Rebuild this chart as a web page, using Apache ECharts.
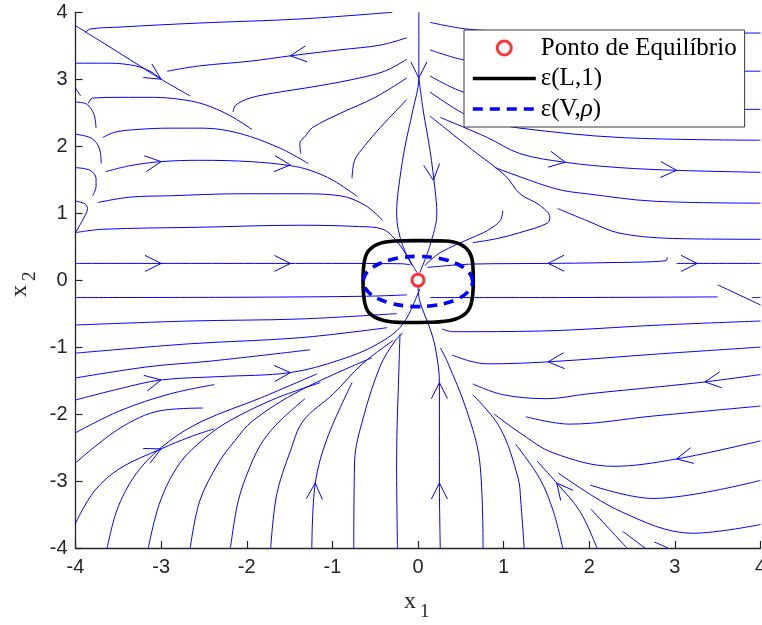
<!DOCTYPE html>
<html>
<head>
<meta charset="utf-8">
<script src="https://cdn.jsdelivr.net/npm/echarts@6.0.0/dist/echarts.min.js"></script>
<style>
  html, body { margin: 0; padding: 0; background: #fff; }
  #chart { width: 762px; height: 625px; }
</style>
</head>
<body>
<div id="chart"></div>
<script>
// Phase portrait: streamlines of the closed-loop system around the equilibrium,
// with the level sets ε(L,1) and ε(V,ρ).

// Streamlines, each a list of [x1, x2] points
const upperLeftLines = [
  [[-4,3.80],[-3.71,3.57],[-3.36,3.29],[-3.00,3.00],[-2.66,2.75]],
  [[-3.88,3.70],[-3.83,3.75],[-3.48,3.78],[-2.55,3.84],[-1.38,3.90],[-0.30,4.0]],
  [[-4,3.24],[-3.60,3.24],[-3.30,3.20],[-3.13,3.12],[-3.00,3.00]],
  [[-2.93,3.12],[-2.55,3.20],[-1.96,3.27],[-1.49,3.35],[-0.91,3.44],[-0.44,3.51],[-0.13,3.62]],
  [[-4,2.87],[-3.94,2.75]],
  [[-3.85,2.64],[-3.80,2.72],[-3.48,2.73],[-3.09,2.73],[-2.78,2.70],[-2.51,2.63],[-2.20,2.46],[-1.94,2.25]],
  [[-4,2.66],[-3.89,2.64],[-3.83,2.58],[-3.78,2.46],[-3.76,2.27]],
  [[-2.16,2.51],[-2.13,2.61],[-1.96,2.72],[-1.61,2.81],[-1.26,2.88],[-0.79,2.99],[-0.39,3.12],[-0.13,3.30]],
  [[-3.68,2.13],[-3.54,2.21],[-3.28,2.25],[-2.90,2.27],[-2.51,2.27],[-2.08,2.19],[-1.61,1.97],[-1.28,1.74]],
  [[-4,2.18],[-3.83,2.13],[-3.75,2.04],[-3.71,1.91],[-3.70,1.74]],
  [[-3.65,1.62],[-3.36,1.71],[-3.00,1.77],[-2.55,1.79],[-1.96,1.77],[-1.49,1.71],[-1.26,1.64],[-0.99,1.49],[-0.71,1.25]],
  [[-4,1.68],[-3.83,1.64],[-3.76,1.52],[-3.76,1.40],[-3.80,1.26]],
  [[-1.37,1.89],[-1.38,2.04],[-1.31,2.16],[-1.23,2.28],[-0.91,2.49],[-0.50,2.73],[-0.13,3.02]],
  [[-0.77,1.52],[-0.74,1.79],[-0.62,2.01],[-0.44,2.28],[-0.27,2.51],[-0.13,2.70]],
  [[-4,1.18],[-3.89,1.14],[-3.86,1.07],[-3.92,0.89],[-4,0.71]],
  [[-3.74,1.16],[-3.36,1.24],[-2.90,1.26],[-2.08,1.29],[-1.38,1.29],[-0.91,1.26],[-0.62,1.12],[-0.41,0.89]],
  [[-4,0.71],[-3.68,0.76],[-2.55,0.79],[-1.38,0.82],[-0.68,0.80],[-0.41,0.76],[-0.21,0.52],[-0.07,0.22]]
];

const middleLeftLines = [
  [[-4,0.25],[-1,0.25],[-0.2,0.245],[-0.09,0.23]],
  [[-4,-0.26],[-2,-0.255],[-0.6,-0.24],[-0.13,-0.22]],
  [[-4,-0.67],[-2.66,-0.61],[-1.38,-0.58],[-0.25,-0.50]],
  [[-4,-1.09],[-2.66,-0.95],[-1.38,-0.86],[-0.36,-0.71]]
];

const centerVerticalLines = [
  [[0.01,4],[0.01,3.02],[-0.06,2.54],[-0.16,1.94],[-0.23,1.34],[-0.25,1.00],[-0.18,0.52],[-0.01,0.11]],
  [[0.01,3.02],[0.06,2.54],[0.14,1.94],[0.20,1.34],[0.22,1.00],[0.14,0.52],[0.02,0.11]]
];

const upperRightLines = [
  [[0.14,3.85],[0.57,3.75],[1.19,3.71],[2.13,3.69],[4,3.69]],
  [[0.14,3.44],[0.53,3.29],[1.19,3.18],[2.13,3.14],[4,3.12]],
  [[0.14,3.05],[0.53,2.81],[1.19,2.64],[2.13,2.57],[4,2.55]],
  [[0.14,2.81],[0.57,2.46],[0.84,2.36],[1.19,2.27],[2.36,2.13],[4,2.09]],
  [[0.26,2.43],[0.81,2.13],[1.19,1.89],[1.72,1.76],[2.36,1.68],[3.02,1.64],[4,1.61]],
  [[0.14,2.45],[0.64,1.94],[1.02,1.56],[1.19,1.29],[1.42,1.12],[1.54,0.94],[1.51,0.85],[1.19,0.71],[0.92,0.62],[0.64,0.56]],
  [[0.90,1.68],[1.42,1.44],[1.69,1.34],[1.97,1.29],[2.74,1.18],[4,1.15]],
  [[1.63,1.07],[1.97,0.89],[2.36,0.70],[3.06,0.62],[4,0.61]],
  [[0.99,1.04],[0.96,0.89],[0.81,0.74],[0.64,0.64],[0.26,0.41],[0.08,0.22]]
];

const middleRightLines = [
  [[2.91,0.34],[2.90,0.29],[2.13,0.26],[1.52,0.25],[0.64,0.24],[0.11,0.19]],
  [[3.02,0.25],[4,0.25]],
  [[0.14,-0.26],[1.42,-0.26],[3.50,-0.25]],
  [[3.50,-0.07],[4,-0.37]],
  [[3.90,-0.26],[4,-0.26]],
  [[0.28,-0.73],[0.41,-0.77],[1.42,-0.76],[2.83,-0.67],[4,-0.61]],
  [[0.40,-1.12],[0.61,-1.21],[0.81,-1.25],[1.52,-1.22],[2.83,-1.10],[4,-1.00]],
  [[0.64,-1.55],[0.99,-1.71],[1.51,-1.77],[1.97,-1.70],[2.83,-1.59],[3.35,-1.52],[4,-1.41]],
  [[1.26,-2.04],[1.77,-2.15],[2.74,-2.03],[4,-1.88]],
  [[0.89,-2.00],[1.19,-2.28],[1.58,-2.58],[2.28,-2.78],[3.02,-2.67],[4,-2.40]]
];

const lowerRightLines = [
  [[1.14,-2.45],[1.42,-2.96],[1.58,-3.45],[1.69,-4]],
  [[1.39,-2.70],[1.62,-3.03],[1.89,-3.45],[2.09,-4]],
  [[1.64,-2.88],[2.36,-3.45],[3.21,-3.78],[4,-3.65]],
  [[2.01,-3.06],[2.74,-3.26],[4,-2.99]],
  [[2.02,-3.42],[2.44,-4]],
  [[2.39,-3.75],[2.65,-4]],
  [[2.76,-3.91],[2.92,-4]],
  [[1.24,-4],[1.20,-3.30],[1.17,-2.96],[0.96,-2.21],[0.64,-1.71]],
  [[0.76,-4],[0.72,-2.70],[0.57,-1.95],[0.34,-1.21],[0.26,-1.01]],
  [[0.26,-4],[0.25,-3.03],[0.25,-1.53],[0.21,-1.06],[0.15,-0.76],[0.02,-0.31],[0,-0.08]]
];

const lowerLeftLines = [
  [[-4,-1.46],[-3.13,-1.29],[-2.43,-1.21],[-1.26,-1.04]],
  [[-4,-1.79],[-3.48,-1.62],[-3.00,-1.49],[-2.31,-1.44],[-1.49,-1.38],[-0.91,-1.19],[-0.48,-0.96],[-0.18,-0.66],[0.02,-0.13]],
  [[-4,-2.28],[-3.48,-1.95],[-2.90,-1.70],[-2.38,-1.56]],
  [[-4,-2.73],[-3.48,-2.21],[-3.01,-1.95],[-2.51,-1.91]],
  [[-4,-3.63],[-3.78,-3.15],[-3.48,-2.81],[-3.00,-2.52],[-2.66,-2.34],[-2.38,-2.22]],
  [[-3.63,-4],[-3.50,-3.38],[-3.25,-2.82],[-2.90,-2.40],[-2.51,-2.10],[-1.84,-1.76],[-1.18,-1.40]],
  [[-3.15,-4],[-3.01,-3.30],[-2.78,-2.73],[-2.49,-2.36],[-2.20,-2.10],[-1.67,-1.77],[-1.14,-1.53]],
  [[-2.66,-4],[-2.55,-3.30],[-2.33,-2.73],[-2.14,-2.40],[-1.93,-2.10],[-1.38,-1.65],[-0.54,-1.16]],
  [[-2.19,-4],[-2.10,-3.30],[-1.96,-2.78],[-1.81,-2.40],[-1.61,-2.10],[-1.32,-1.77]],
  [[-1.72,-4],[-1.65,-3.20],[-1.49,-2.55],[-1.34,-2.10],[-0.99,-1.70],[-0.65,-1.25],[-0.29,-0.90]],
  [[-1.24,-4],[-1.20,-3.03],[-1.06,-2.36],[-0.77,-1.53]],
  [[-0.75,-4],[-0.74,-2.70],[-0.64,-2.06],[-0.44,-1.28],[-0.27,-0.91],[-0.18,-0.79]],
  [[-0.24,-4],[-0.25,-2.70],[-0.22,-1.21],[-0.21,-0.80]]
];

// Flow direction arrows: [tipX, tipY, tailX, tailY]
const flowArrows = [
  [-3.00,3.00,-3.36,3.29],
  [-1.49,3.35,-0.91,3.44],
  [-3.00,1.77,-3.36,1.71],
  [-1.49,1.72,-1.96,1.77],
  [0.01,3.02,0.01,3.5],
  [0.18,1.49,0.14,1.94],
  [-3.00,0.25,-3.5,0.25],
  [-1.49,0.25,-2.0,0.25],
  [1.52,0.25,2.13,0.26],
  [3.26,0.25,3.02,0.25],
  [1.72,1.76,1.19,1.89],
  [3.02,1.64,2.36,1.68],
  [1.52,-1.22,2.83,-1.10],
  [3.35,-1.52,4.0,-1.41],
  [3.02,-2.67,4.0,-2.40],
  [1.62,-3.03,1.89,-3.45],
  [0.25,-3.03,0.25,-3.5],
  [0.25,-1.53,0.25,-2.0],
  [-1.20,-3.03,-1.22,-3.5],
  [-3.00,-1.49,-3.48,-1.62],
  [-1.49,-1.38,-2.31,-1.44],
  [-3.00,-2.52,-3.48,-2.81]
];

// Level set ε(L,1)
const levelSetL = [
  [0,0.591],[0.315,0.584],[0.490,0.539],[0.595,0.427],[0.639,0.247],[0.646,-0.007],
  [0.636,-0.247],[0.584,-0.457],[0.432,-0.584],[0.140,-0.629],[-0.152,-0.633],
  [-0.409,-0.599],[-0.572,-0.487],[-0.630,-0.277],[-0.642,-0.007],[-0.630,0.247],
  [-0.584,0.427],[-0.467,0.539],[-0.269,0.584],[0,0.591]
];

// Level set ε(V,ρ)
const levelSetV = [
  [0.640,-0.020],[0.618,0.077],[0.554,0.168],[0.453,0.245],[0.320,0.305],[0.166,0.342],
  [0.000,0.355],[-0.166,0.342],[-0.320,0.305],[-0.453,0.245],[-0.554,0.168],[-0.618,0.077],
  [-0.640,-0.020],[-0.618,-0.117],[-0.554,-0.208],[-0.453,-0.285],[-0.320,-0.345],[-0.166,-0.382],
  [0.000,-0.395],[0.166,-0.382],[0.320,-0.345],[0.453,-0.285],[0.554,-0.208],[0.618,-0.117],
  [0.640,-0.020]
];

const equilibrium = [[0, 0]];

const axisRange = { min: -4, max: 4, interval: 1 };

const streamColor = '#0000ff';
const allStreamlines = [].concat(upperLeftLines, middleLeftLines, centerVerticalLines,
  upperRightLines, middleRightLines, lowerRightLines, lowerLeftLines);

const streamSeries = allStreamlines.map(pts => ({
  type: 'line',
  data: pts,
  smooth: 0.35,
  symbol: 'none',
  silent: true,
  lineStyle: { color: streamColor, width: 1 },
  z: 2
}));

const arrowSeries = {
  type: 'custom',
  data: flowArrows,
  encode: { x: [0, 2], y: [1, 3] },
  silent: true,
  z: 3,
  renderItem: function (params, api) {
    const tip = api.coord([api.value(0), api.value(1)]);
    const tail = api.coord([api.value(2), api.value(3)]);
    let dx = tip[0] - tail[0], dy = tip[1] - tail[1];
    const len = Math.hypot(dx, dy) || 1;
    dx /= len; dy /= len;
    const back = 16, half = 8;
    const p1 = [tip[0] - back * dx - half * dy, tip[1] - back * dy + half * dx];
    const p2 = [tip[0] - back * dx + half * dy, tip[1] - back * dy - half * dx];
    return {
      type: 'polyline',
      shape: { points: [p1, tip, p2] },
      style: { stroke: streamColor, lineWidth: 1, fill: null }
    };
  }
};

const axisColor = '#262626';
const tickFont = { fontFamily: 'Liberation Sans, Arial, sans-serif', fontSize: 20, color: axisColor };
const hiddenMarker = { color: 'rgba(0,0,0,0)', borderColor: 'rgba(0,0,0,0)', borderWidth: 0, opacity: 0 };

const chart = echarts.init(document.getElementById('chart'), null, { renderer: 'canvas' });

chart.setOption({
  animation: false,
  backgroundColor: '#ffffff',
  grid: { left: 75.5, right: 1.5, top: 12.3, bottom: 77, containLabel: false, outerBoundsMode: 'none' },
  xAxis: {
    type: 'value', min: axisRange.min, max: axisRange.max, interval: axisRange.interval,
    axisLine: { onZero: false, lineStyle: { color: axisColor, width: 1.3 } },
    axisTick: { inside: true, length: 7, lineStyle: { color: axisColor, width: 1.2 } },
    axisLabel: Object.assign({ margin: 9, hideOverlap: false }, tickFont),
    splitLine: { show: false }
  },
  yAxis: {
    type: 'value', min: axisRange.min, max: axisRange.max, interval: axisRange.interval,
    axisLine: { onZero: false, lineStyle: { color: axisColor, width: 1.3 } },
    axisTick: { inside: true, length: 7, lineStyle: { color: axisColor, width: 1.2 } },
    axisLabel: Object.assign({ margin: 8, hideOverlap: false }, tickFont),
    splitLine: { show: false }
  },
  legend: {
    orient: 'vertical',
    left: 464, top: 30,
    padding: [5, 8, 5, 7],
    itemWidth: 63, itemHeight: 14, itemGap: 4.5,
    backgroundColor: '#ffffff',
    borderColor: '#3a3a3a', borderWidth: 1,
    data: [
      { name: 'Ponto de Equilíbrio', itemStyle: { color: '#ffffff', borderColor: '#ff0000', borderWidth: 3 } },
      { name: 'ε(L,1)', itemStyle: hiddenMarker, lineStyle: { width: 3.6 } },
      { name: 'ε(V,ρ)', itemStyle: hiddenMarker, lineStyle: { width: 3.6 } }
    ],
    formatter: function (name) {
      return name === 'ε(V,ρ)' ? 'ε(V,{it|ρ})' : name;
    },
    textStyle: {
      fontFamily: 'Liberation Serif, Times New Roman, serif', fontSize: 25, color: '#000', lineHeight: 26,
      rich: { it: { fontFamily: 'Liberation Serif, serif', fontStyle: 'italic', fontSize: 25 } }
    },
    z: 10
  },
  graphic: [
    { type: 'text', left: 404, top: 590, style: { text: 'x', font: '24px "Liberation Serif", serif', fill: axisColor } },
    { type: 'text', left: 420, top: 603, style: { text: '1', font: '19px "Liberation Serif", serif', fill: axisColor } },
    { type: 'text', x: 8, y: 297, rotation: Math.PI / 2, style: { text: 'x', font: '24px "Liberation Serif", serif', fill: axisColor } },
    { type: 'text', x: 21, y: 281, rotation: Math.PI / 2, style: { text: '2', font: '19px "Liberation Serif", serif', fill: axisColor } }
  ],
  series: streamSeries.concat([
    arrowSeries,
    {
      name: 'ε(L,1)', type: 'line', data: levelSetL, smooth: 0.4, symbol: 'none', silent: true,
      lineStyle: { color: '#000000', width: 3.6 }, itemStyle: { color: '#000000' }, z: 5
    },
    {
      name: 'ε(V,ρ)', type: 'line', data: levelSetV, smooth: 0.4, symbol: 'none', silent: true,
      lineStyle: { color: '#0000ff', width: 3.6, type: [10, 7] }, itemStyle: { color: '#0000ff' }, z: 6
    },
    {
      name: 'Ponto de Equilíbrio', type: 'scatter', data: equilibrium, symbol: 'circle', symbolSize: 12,
      silent: true,
      itemStyle: { color: '#ffffff', borderColor: '#ff0000', borderWidth: 3 }, z: 7
    }
  ])
});
</script>
</body>
</html>
